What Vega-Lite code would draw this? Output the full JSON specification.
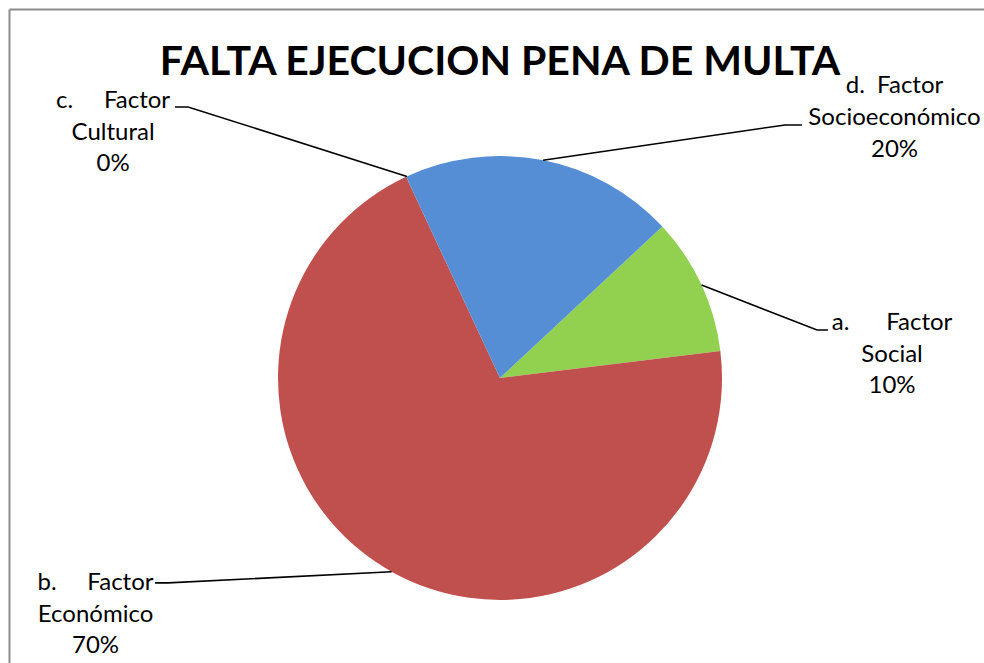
{
  "$schema": "https://vega.github.io/schema/vega-lite/v6.json",
  "width": 975,
  "height": 654,
  "autosize": {"type": "none"},
  "padding": {"left": 9, "top": 9, "right": 0, "bottom": 0},
  "background": "white",
  "view": {"stroke": null},
  "title": {
    "text": "FALTA EJECUCION PENA DE MULTA",
    "font": "Lato",
    "fontSize": 41,
    "fontWeight": "bold",
    "color": "#000000",
    "anchor": "middle",
    "frame": "group",
    "baseline": "alphabetic",
    "offset": -107,
    "dx": 3.5
  },
  "datasets": {
    "factores": [
      {"factor": "a. Factor Social", "valor": 10, "etiqueta": "a.\u00a0\u00a0\u00a0\u00a0\u00a0\u00a0Factor\nSocial\n10%", "lx": 1.766, "ly": 0.216},
      {"factor": "b. Factor Económico", "valor": 70, "etiqueta": "b.\u00a0\u00a0\u00a0\u00a0\u00a0Factor\nEconómico\n70%", "lx": -1.822, "ly": -0.955},
      {"factor": "c. Factor Cultural", "valor": 0, "etiqueta": "c.\u00a0\u00a0\u00a0\u00a0\u00a0Factor\nCultural\n0%", "lx": -1.743, "ly": 1.216},
      {"factor": "d. Factor Socioeconómico", "valor": 20, "etiqueta": "d.\u00a0\u00a0Factor\nSocioeconómico\n20%", "lx": 1.777, "ly": 1.282}
    ],
    "guias": [
      {"factor": "a. Factor Social", "paso": 1, "gx": 0.908, "gy": 0.419},
      {"factor": "a. Factor Social", "paso": 2, "gx": 1.428, "gy": 0.216},
      {"factor": "a. Factor Social", "paso": 3, "gx": 1.477, "gy": 0.216},
      {"factor": "b. Factor Económico", "paso": 1, "gx": -0.488, "gy": -0.873},
      {"factor": "b. Factor Económico", "paso": 2, "gx": -1.495, "gy": -0.923},
      {"factor": "b. Factor Económico", "paso": 3, "gx": -1.554, "gy": -0.923},
      {"factor": "c. Factor Cultural", "paso": 1, "gx": -0.419, "gy": 0.908},
      {"factor": "c. Factor Cultural", "paso": 2, "gx": -1.405, "gy": 1.221},
      {"factor": "c. Factor Cultural", "paso": 3, "gx": -1.464, "gy": 1.221},
      {"factor": "d. Factor Socioeconómico", "paso": 1, "gx": 0.194, "gy": 0.981},
      {"factor": "d. Factor Socioeconómico", "paso": 2, "gx": 1.284, "gy": 1.14},
      {"factor": "d. Factor Socioeconómico", "paso": 3, "gx": 1.36, "gy": 1.14}
    ]
  },
  "layer": [
    {
      "data": {"name": "factores"},
      "mark": {"type": "arc", "outerRadius": 222},
      "encoding": {
        "x": {"datum": 0, "type": "quantitative", "scale": {"domain": [-2.2117, 2.1802], "nice": false, "zero": false},
              "axis": {"orient": "top", "domain": true, "domainColor": "#8c8c8c", "domainWidth": 2, "ticks": false, "labels": false, "grid": false, "title": null}},
        "y": {"datum": 0, "type": "quantitative", "scale": {"domain": [-1.2838, 1.6622], "nice": false, "zero": false},
              "axis": {"orient": "left", "domain": true, "domainColor": "#8c8c8c", "domainWidth": 2, "ticks": false, "labels": false, "grid": false, "title": null}},
        "theta": {"field": "valor", "type": "quantitative", "stack": true, "scale": {"domain": [0, 100], "range": [0.82, 7.1032]}},
        "order": {"field": "factor", "sort": "ascending"},
        "color": {
          "field": "factor",
          "type": "nominal",
          "legend": null,
          "scale": {
            "domain": ["a. Factor Social", "b. Factor Económico", "c. Factor Cultural", "d. Factor Socioeconómico"],
            "range": ["#92D050", "#C0504D", "#8064A2", "#558ED5"]
          }
        }
      }
    },
    {
      "data": {"name": "guias"},
      "mark": {"type": "line", "color": "#000000", "strokeWidth": 1.6},
      "encoding": {
        "x": {"field": "gx", "type": "quantitative",
              "axis": {"orient": "top", "domain": true, "domainColor": "#8c8c8c", "domainWidth": 2, "ticks": false, "labels": false, "grid": false, "title": null}},
        "y": {"field": "gy", "type": "quantitative",
              "axis": {"orient": "left", "domain": true, "domainColor": "#8c8c8c", "domainWidth": 2, "ticks": false, "labels": false, "grid": false, "title": null}},
        "detail": {"field": "factor", "type": "nominal"},
        "order": {"field": "paso", "type": "quantitative"}
      }
    },
    {
      "data": {"name": "factores"},
      "mark": {"type": "text", "lineBreak": "\n", "align": "center", "baseline": "alphabetic", "font": "Lato", "fontSize": 24, "lineHeight": 31.7, "color": "#000000"},
      "encoding": {
        "x": {"field": "lx", "type": "quantitative",
              "axis": {"orient": "top", "domain": true, "domainColor": "#8c8c8c", "domainWidth": 2, "ticks": false, "labels": false, "grid": false, "title": null}},
        "y": {"field": "ly", "type": "quantitative",
              "axis": {"orient": "left", "domain": true, "domainColor": "#8c8c8c", "domainWidth": 2, "ticks": false, "labels": false, "grid": false, "title": null}},
        "text": {"field": "etiqueta", "type": "nominal"}
      }
    }
  ]
}
